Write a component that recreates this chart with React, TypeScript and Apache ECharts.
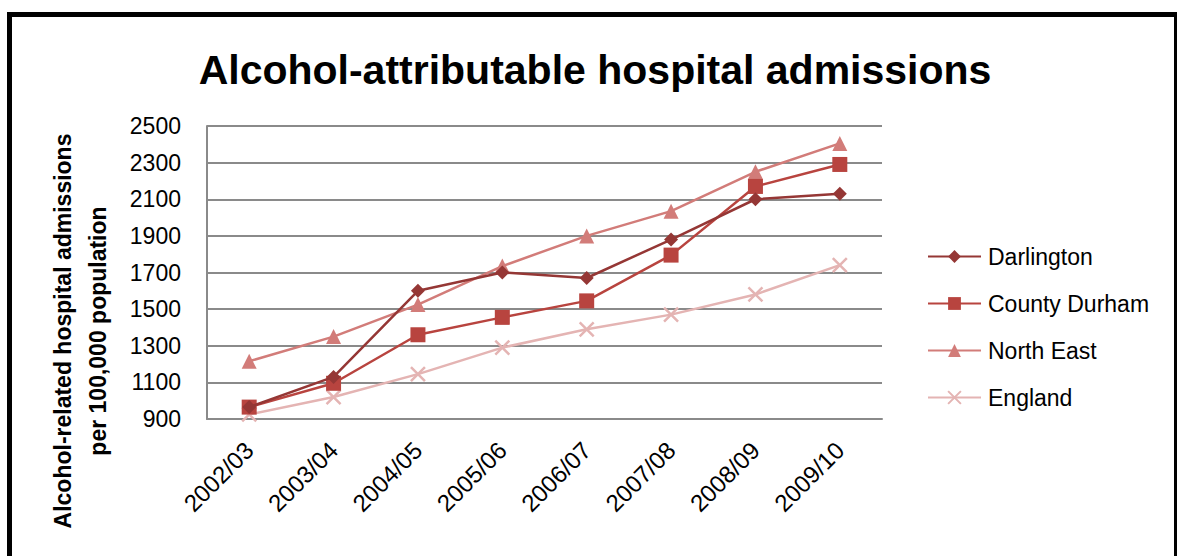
import React, { useEffect, useRef } from "react";
import * as echarts from "echarts";

// Financial years on the category axis
const years = ["2002/03", "2003/04", "2004/05", "2005/06", "2006/07", "2007/08", "2008/09", "2009/10"];

// Admissions per 100,000 population
const darlington = [965, 1130, 1600, 1700, 1670, 1880, 2100, 2130];
const countyDurham = [965, 1095, 1360, 1455, 1545, 1795, 2170, 2290];
const northEast = [1215, 1350, 1525, 1735, 1900, 2035, 2250, 2405];
const england = [925, 1020, 1145, 1290, 1390, 1470, 1580, 1740];

const seriesNames = ["Darlington", "County Durham", "North East", "England"];
const seriesData = [darlington, countyDurham, northEast, england];
const seriesColors = ["#953735", "#B8443F", "#D27C79", "#E4B4B3"];
const seriesSymbols = ["diamond", "rect", "triangle", "path://M0,0L10,10M10,0L0,10"];
const symbolSizes = [14, 15, 15, 14];

const FONT = "Liberation Sans";
const GRID_GRAY = "#8a8a8a";

export default function App() {
  const ref = useRef<HTMLDivElement>(null);

  useEffect(() => {
    if (!ref.current) return;
    const chart = echarts.init(ref.current, null, { renderer: "svg" });

    const series = seriesNames.map((name, i) => ({
      name,
      type: "line",
      data: seriesData[i],
      symbol: seriesSymbols[i],
      symbolSize: symbolSizes[i],
      showAllSymbol: true,
      color: seriesColors[i],
      lineStyle: { color: seriesColors[i], width: 2.5 },
      itemStyle:
        i === 3
          ? { color: "none", borderColor: seriesColors[i], borderWidth: 2.5 }
          : { color: seriesColors[i], borderWidth: 0 },
      z: 10 - i,
    }));

    chart.setOption({
      animation: false,
      backgroundColor: "#ffffff",
      textStyle: { fontFamily: FONT },
      grid: { left: 207, right: 295, top: 126, bottom: 137, containLabel: false },
      xAxis: {
        type: "category",
        data: years,
        boundaryGap: true,
        axisLine: { show: true, lineStyle: { color: GRID_GRAY, width: 2 } },
        axisTick: { show: false },
        axisLabel: {
          rotate: 45,
          margin: 27,
          fontSize: 24,
          color: "#000000",
          fontFamily: FONT,
          interval: 0,
        },
      },
      yAxis: {
        type: "value",
        min: 900,
        max: 2500,
        interval: 200,
        axisLine: { show: true, lineStyle: { color: GRID_GRAY, width: 2 } },
        axisTick: { show: false },
        splitLine: { show: true, lineStyle: { color: GRID_GRAY, width: 2 } },
        axisLabel: {
          fontSize: 23,
          color: "#000000",
          margin: 26,
          fontFamily: FONT,
          formatter: (v: number) => String(v),
        },
      },
      legend: {
        orient: "vertical",
        left: 922,
        top: 240,
        itemWidth: 53,
        itemHeight: 16,
        itemGap: 24,
        data: seriesNames,
        textStyle: { fontSize: 23, color: "#000000", fontFamily: FONT, padding: [0, 0, 0, 2] },
      },
      graphic: [
        {
          type: "rect",
          shape: { x: 9.5, y: 14.5, width: 1167, height: 600 },
          style: { fill: "none", stroke: "#000000", lineWidth: 5 },
          silent: true,
        },
        {
          type: "text",
          x: 595,
          y: 70,
          style: {
            text: "Alcohol-attributable hospital admissions",
            font: `bold 41px "${FONT}"`,
            fill: "#000000",
            align: "center",
            verticalAlign: "middle",
          },
        },
        {
          type: "text",
          x: 80,
          y: 331,
          rotation: Math.PI / 2,
          style: {
            text: "Alcohol-related hospital admissions\nper 100,000 population",
            font: `bold 23px "${FONT}"`,
            lineHeight: 35,
            fill: "#000000",
            align: "center",
            verticalAlign: "middle",
          },
        },
      ],
      series,
    });

    return () => chart.dispose();
  }, []);

  return (
    <div
      ref={ref}
      style={{ position: "absolute", left: 0, top: 0, width: 1177, height: 556 }}
    />
  );
}
